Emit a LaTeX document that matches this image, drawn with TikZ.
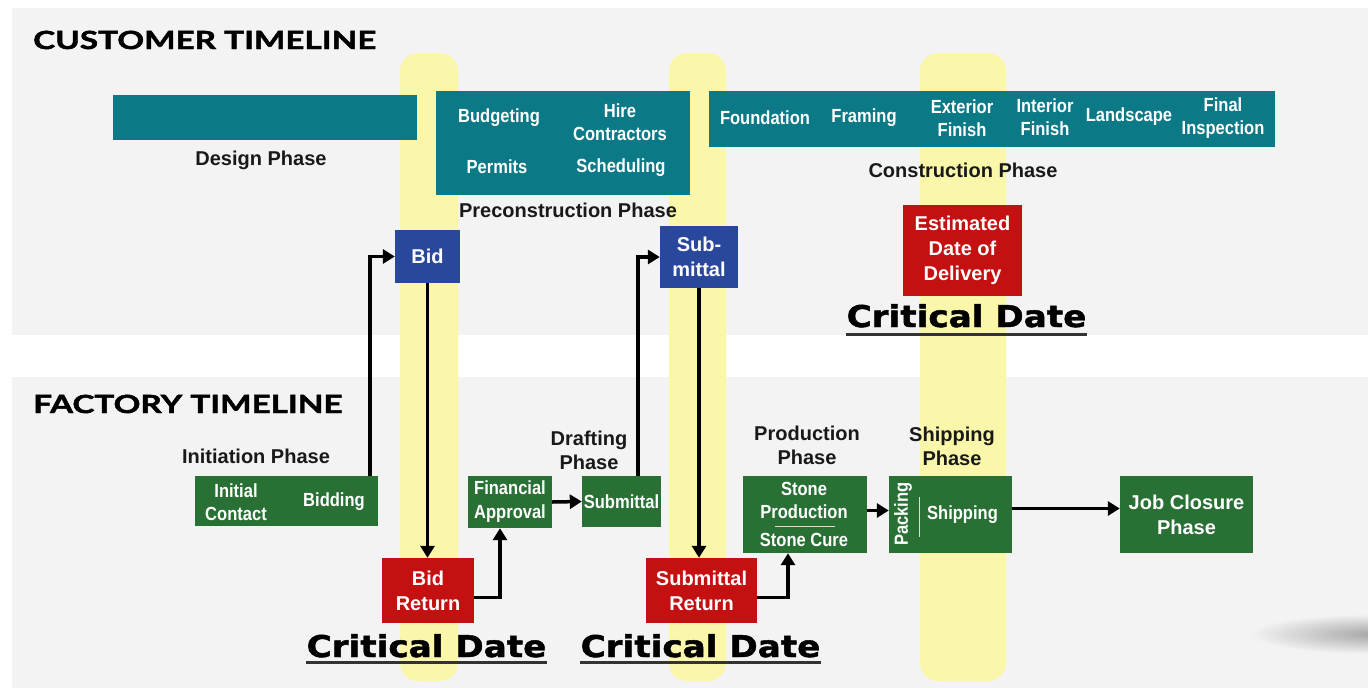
\documentclass[tikz,border=0pt]{standalone}
\usepackage{fontspec}
\setmainfont{Liberation Sans}
\newfontfamily\narrowfont[FakeStretch=0.87]{Liberation Sans}
\newfontfamily\critfont[FakeStretch=1.14,FakeBold=1.6]{DejaVu Sans}
\newfontfamily\titlefont[FakeStretch=1.33,FakeBold=1.8]{Lato}
\usetikzlibrary{arrows.meta,positioning}
\definecolor{panelgray}{RGB}{243,243,243}
\definecolor{bandyellow}{RGB}{250,247,170}
\definecolor{tealbox}{RGB}{11,121,134}
\definecolor{greenbox}{RGB}{40,112,52}
\definecolor{redbox}{RGB}{196,16,16}
\definecolor{bluebox}{RGB}{42,72,155}
\tikzset{
  basic/.style  = {rectangle, inner sep=0pt, align=center, text=white,
                   font=\bfseries\fontsize{20}{25}\selectfont},
  wh/.style 2 args = {minimum width=#1pt, minimum height=#2pt},
  teal box/.style  = {basic, fill=tealbox},
  green box/.style = {basic, fill=greenbox},
  red box/.style   = {basic, fill=redbox},
  blue box/.style  = {basic, fill=bluebox},
  item/.style   = {inner sep=0pt, align=center, text=white,
                   font=\narrowfont\bfseries\fontsize{19}{23}\selectfont},
  phase/.style  = {inner sep=0pt, align=center, text=black!90,
                   font=\bfseries\fontsize{20}{24}\selectfont},
  title/.style  = {inner sep=0pt, font=\titlefont\bfseries\fontsize{25}{30}\selectfont},
  crit/.style   = {inner sep=0pt, anchor=base, font=\critfont\bfseries\fontsize{30}{36}\selectfont},
  critline/.style = {line width=3pt, black!80},
  flow/.style   = {line width=3.5pt, -{Triangle[length=12pt,width=14pt]}},
  divider/.style = {line width=0.8pt, white!80!greenbox}
}

\begin{document}
\begin{tikzpicture}[x=1pt,y=-1pt]
\useasboundingbox (0,0) rectangle (1368,688);
\fill[white] (0,0) rectangle (1368,688);
% panels and highlight bands
\fill[panelgray] (12,8) rectangle (1368,335);
\fill[panelgray] (12,377) rectangle (1368,688);
\begin{scope}
  \clip (1200,600) rectangle (1368,670);
  \shade[inner color=black!35, outer color=panelgray] (1375,634) ellipse (125pt and 20pt);
\end{scope}
\foreach \xa/\xb in {400/458, 669/726, 920/1006}
  \fill[bandyellow, rounded corners=18pt] (\xa,53) rectangle (\xb,681);

\node[title, anchor=base west] (custtitle) at (33,49) {CUSTOMER TIMELINE};
\node[title, anchor=base west] (facttitle) at (33,413) {FACTORY TIMELINE};

% customer timeline
\node[teal box, wh={304}{45}] (design) at (265,117.5) {};
\node[phase, anchor=base] (designlbl) at (261,165) {Design Phase};

\node[teal box, wh={254}{104}] (precon) at (563,143) {};
\node[item] (budget) at (499,118) {Budgeting};
\node[item] (hire) at (620,122) {Hire\\Contractors};
\node[item] (permits) at (497,167) {Permits};
\node[item] (sched) at (621,168) {Scheduling};
\node[phase, anchor=base] (preconlbl) at (568,217) {Preconstruction Phase};

\node[teal box, wh={566}{56}] (constr) at (992,119) {};
\node[item] (found) at (765,118) {Foundation};
\node[item] (framing) at (864,118) {Framing};
\node[item] (exterior) at (962,118) {Exterior\\Finish};
\node[item] (interior) at (1045,117) {Interior\\Finish};
\node[item] (landscape) at (1129,117) {Landscape};
\node[item] (inspect) at (1223,118) {Final\\Inspection};
\node[phase, anchor=base] (constrlbl) at (963,177) {Construction Phase};

\node[blue box, wh={65}{53}] (bid) at (427.5,256.5) {Bid};
\node[blue box, wh={78}{62}] (submit) at (699,257) {Sub-\\mittal};
\node[red box, wh={119}{91}] (delivery) at (962.5,250.5) {Estimated\\Date of\\Delivery};
\node[crit] (crit3) at (966.5,327) {Critical Date};
\draw[critline] ([yshift=-7pt]crit3.base west) -- ([yshift=-7pt]crit3.base east);

% factory timeline
\node[phase, anchor=base] (initlbl) at (256,463) {Initiation Phase};
\node[green box, wh={183}{50}] (init) at (286.5,501) {};
\node[item] (contact) at (236,502) {Initial\\Contact};
\node[item] (bidding) at (334,502) {Bidding};

\node[red box, wh={92}{65}] (bidret) at (428,590.5) {Bid\\Return};
\node[green box, wh={84}{52}, font=\narrowfont\bfseries\fontsize{19}{24}\selectfont] (fin) at (510,502) {Financial\\Approval};

\node[phase] (draftlbl) at (589,450) {Drafting\\Phase};
\node[green box, wh={79}{51}, font=\narrowfont\bfseries\fontsize{19}{23}\selectfont] (subm) at (621.5,501.5) {Submittal};
\node[red box, wh={111}{65}] (subret) at (701.5,590.5) {Submittal\\Return};

\node[phase] (prodlbl) at (807,445) {Production\\Phase};
\node[green box, wh={124}{77}] (prod) at (805,514.5) {};
\node[item] (stoneprod) at (804,500) {Stone\\Production};
\draw[divider] (775,526) -- (835,526);
\node[item] (stonecure) at (804,540) {Stone Cure};

\node[phase] (shiplbl) at (952,446) {Shipping\\Phase};
\node[green box, wh={123}{77}] (ship) at (950.5,514.5) {};
\node[item, rotate=90] (packing) at (903,514) {Packing};
\draw[divider] (919,497) -- (919,537);
\node[item] (shipping) at (962.5,515) {Shipping};

\node[green box, wh={133}{77}] (job) at (1186.5,514.5) {Job Closure\\Phase};

\node[crit] (crit1) at (426.5,657) {Critical Date};
\draw[critline] ([yshift=-5pt]crit1.base west) -- ([yshift=-5pt]crit1.base east);
\node[crit] (crit2) at (700.5,657) {Critical Date};
\draw[critline] ([yshift=-5pt]crit2.base west) -- ([yshift=-5pt]crit2.base east);

% connectors
\draw[flow] ([xshift=-8pt]init.north east) |- (bid.west);
\draw[flow] (bid.south) -- (bid.south |- bidret.north);
\draw[flow] ([yshift=-7pt]bidret.east) -| ([xshift=-10pt]fin.south);
\draw[flow] (fin.east) -- (subm.west);
\draw[flow] ([xshift=-23pt]subm.north east) |- (submit.west);
\draw[flow] (submit.south) -- (submit.south |- subret.north);
\draw[flow] ([yshift=-7pt]subret.east) -| ([xshift=-17pt]prod.south);
\draw[flow] ([yshift=4pt]prod.east) -- ([yshift=4pt]ship.west);
\draw[flow] ([yshift=6pt]ship.east) -- ([yshift=6pt]job.west);
\end{tikzpicture}
\end{document}
